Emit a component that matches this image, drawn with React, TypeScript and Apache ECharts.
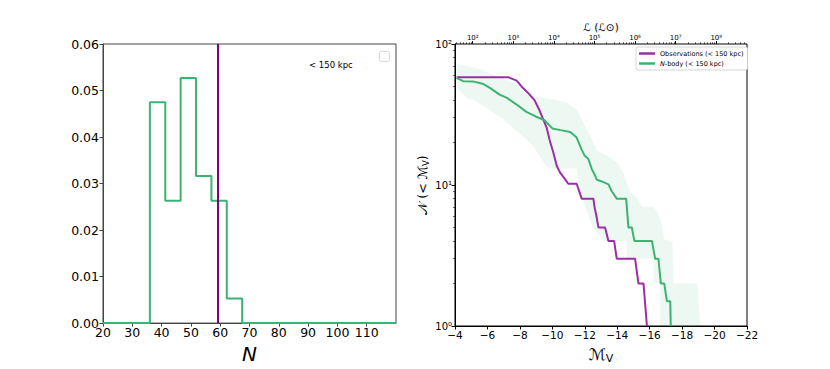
import React, { useEffect, useRef } from "react";
import * as echarts from "echarts";

// Left panel: histogram of N (N-body satellites within 150 kpc)
const histEdges = [36, 41.25, 46.5, 51.75, 57, 62.25, 67.5];
const histValues = [0.0475, 0.0263, 0.0527, 0.0316, 0.0263, 0.0053];
const observedN = 59.2;
const histXMin = 20;
const histXMax = 120;

// Right panel: cumulative luminosity function
const obsMag = [-4.1, -7.3, -7.8, -8.1, -8.5, -8.9, -9.2, -9.45, -9.65, -9.85, -10.06, -10.27, -10.47, -10.78, -10.98, -11.5, -11.81, -12.53, -12.6, -12.72, -12.84, -13.25, -13.46, -13.81, -13.97, -15.1, -15.31, -15.62, -15.83];
const obsCount = [58, 58, 55, 50, 45, 40, 34, 29, 25.5, 20.5, 17, 13.7, 12.3, 11, 10.2, 10.2, 8, 8, 7, 6, 5, 5, 4, 4, 3, 3, 2, 2, 1];

const nbodyMag = [-4.1, -4.5, -5.1, -5.7, -6.15, -6.75, -7.2, -7.8, -8.4, -9.0, -9.5, -10.0, -10.5, -11.1, -11.5, -11.8, -12.0, -12.22, -12.43, -12.63, -12.74, -13.05, -13.46, -13.67, -13.97, -14.55, -14.69, -14.9, -15.06, -16.14, -16.34, -16.54, -16.69, -16.9, -17.06, -17.27, -17.3];
const nbodyCount = [57.5, 54.5, 54.3, 52.3, 48.8, 43.8, 41.5, 37.2, 33, 30.5, 28.9, 25.2, 24.5, 23.8, 21.7, 17.9, 16.1, 15.3, 13, 11.7, 10.9, 10.6, 10.1, 9, 8, 8, 5, 5, 4, 4, 3, 3, 2, 2, 1.5, 1.5, 1];

const bandUpperMag = [-4.1, -4.9, -5.7, -6.35, -7.8, -8.6, -8.85, -9.45, -10.06, -10.9, -11.5, -11.9, -12.43, -12.74, -13.46, -13.67, -14.07, -14.38, -14.8, -15.21, -15.52, -16.24, -16.55, -16.76, -16.9, -17.4, -17.48, -18.93, -19.13];
const bandUpperCount = [72, 69, 65.6, 60.5, 51.5, 47.5, 42.6, 41.5, 40.4, 38.3, 34.3, 27.7, 21, 17.5, 16, 15.3, 14.1, 12, 8.9, 8.2, 7, 7, 6.1, 5.2, 4.1, 4, 2, 2, 1];

const bandLowerMag = [-4.1, -4.7, -5.3, -6.1, -7.0, -7.8, -8.4, -8.8, -9.2, -9.65, -9.85, -11.5, -11.6, -11.85, -12.5, -13.2, -14.59, -14.59, -16.24, -16.24, -16.65, -16.65];
const bandLowerCount = [48.8, 41.5, 39.3, 34.3, 29.2, 24.2, 21, 19, 16, 13.5, 13.1, 13.1, 10.2, 8, 5, 4, 4, 3, 3, 2, 2, 1];

const magMin = -22;
const magMax = -4;
const countMin = 1;
const countMax = 100;
const lumLogMin = 1.563;
const lumLogMax = 8.758;
const lumTicks = [2, 3, 4, 5, 6, 7, 8];
const countTickLabels = ["10⁰", "10¹", "10²"];

const SUP: Record<string, string> = { "0": "⁰", "1": "¹", "2": "²", "3": "³", "4": "⁴", "5": "⁵", "6": "⁶", "7": "⁷", "8": "⁸", "9": "⁹" };
const sup = (n: number) => String(n).split("").map((c) => SUP[c] ?? c).join("");

const GREEN = "#3cb371";
const PURPLE_R = "#9b2fa5";
const PURPLE_L = "#800080";
const FONT = "DejaVu Sans";

export default function App() {
  const ref = useRef<HTMLDivElement>(null);
  useEffect(() => {
    if (!ref.current) return;
    const chart = echarts.init(ref.current, undefined, { renderer: "svg" });

    // histogram step outline
    const histPts: number[][] = [[histXMin, 0], [histEdges[0], 0]];
    histValues.forEach((v, i) => {
      histPts.push([histEdges[i], v]);
      histPts.push([histEdges[i + 1], v]);
    });
    histPts.push([histEdges[histEdges.length - 1], 0]);
    histPts.push([histXMax, 0]);

    const obsData = obsMag.map((m, i) => [m, obsCount[i]]);
    const nbodyData = nbodyMag.map((m, i) => [m, nbodyCount[i]]);
    const upper = bandUpperMag.map((m, i) => [m, bandUpperCount[i]]);
    const lower = bandLowerMag.map((m, i) => [m, bandLowerCount[i]]);

    const minorLum: number[] = [];
    for (let d = 1; d <= 8; d++) {
      for (let k = 2; k <= 9; k++) {
        const v = d + Math.log10(k);
        if (v > lumLogMin && v < lumLogMax) minorLum.push(v);
      }
    }
    const minorCount: number[] = [];
    for (let d = 0; d < 2; d++) for (let k = 2; k <= 9; k++) minorCount.push(k * Math.pow(10, d));

    const option: any = {
      animation: false,
      textStyle: { fontFamily: FONT },
      grid: [
        { left: 103, top: 44, width: 293, height: 284, show: true, borderColor: "#444", borderWidth: 1, backgroundColor: "transparent" },
        { left: 455, top: 44, width: 292, height: 284, show: true, borderColor: "#000", borderWidth: 1, backgroundColor: "transparent" },
      ],
      xAxis: [
        {
          gridIndex: 0, type: "value", min: histXMin, max: histXMax, interval: 10,
          axisLine: { lineStyle: { color: "#444" } },
          axisTick: { length: 3.5, lineStyle: { color: "#444" } },
          axisLabel: { color: "#000", fontSize: 12.5, margin: 3, showMaxLabel: false, fontFamily: FONT },
          splitLine: { show: false },
          name: "N", nameLocation: "middle", nameGap: 17,
          nameTextStyle: { fontSize: 20, fontStyle: "italic", color: "#000", fontFamily: FONT },
        },
        {
          gridIndex: 1, type: "value", min: magMin, max: magMax, interval: 2, inverse: true,
          axisLine: { lineStyle: { color: "#000" } },
          axisTick: { length: 3.5, lineStyle: { color: "#000" } },
          axisLabel: { color: "#000", fontSize: 10.5, margin: 3, fontFamily: FONT, formatter: (v: number) => String(v).replace("-", "−") },
          splitLine: { show: false },
          name: "ℳ{s|V}", nameLocation: "middle", nameGap: 19,
          nameTextStyle: { fontSize: 16, color: "#000", fontFamily: FONT, rich: { s: { fontSize: 11, verticalAlign: "bottom", padding: [8, 0, 0, 0], fontFamily: FONT } } },
        },
        {
          gridIndex: 1, type: "value", position: "top", min: lumLogMin, max: lumLogMax,
          axisLine: { show: false },
          axisTick: { length: 3, customValues: lumTicks, lineStyle: { color: "#000" } },
          axisLabel: { fontSize: 7, color: "#000", margin: 3, customValues: lumTicks, fontFamily: FONT, formatter: (v: number) => "10" + sup(Math.round(v)) },
          splitLine: { show: false },
        },
        {
          gridIndex: 1, type: "value", position: "top", min: lumLogMin, max: lumLogMax,
          axisLine: { show: false },
          axisTick: { length: 1.8, customValues: minorLum, lineStyle: { color: "#000", width: 0.6 } },
          axisLabel: { show: false },
          splitLine: { show: false },
        },
      ],
      yAxis: [
        {
          gridIndex: 0, type: "value", min: 0, max: 0.06, interval: 0.01,
          axisLine: { lineStyle: { color: "#444" } },
          axisTick: { length: 3.5, lineStyle: { color: "#444" } },
          axisLabel: { color: "#000", fontSize: 12.5, margin: 4, fontFamily: FONT, formatter: (v: number) => v.toFixed(2) },
          splitLine: { show: false },
        },
        {
          gridIndex: 1, type: "log", logBase: 10, min: countMin, max: countMax, position: "left",
          axisLine: { lineStyle: { color: "#000" } },
          axisTick: { length: 3.5, lineStyle: { color: "#000" } },
          axisLabel: { color: "#000", fontSize: 10, margin: 3, fontFamily: FONT, formatter: (v: number) => countTickLabels[Math.round(Math.log10(v))] },
          splitLine: { show: false },
          minorTick: { show: false },
          name: "𝒩 (< ℳ{s|V})", nameLocation: "middle", nameGap: 25, nameRotate: 90,
          nameTextStyle: { fontSize: 12.5, color: "#000", fontFamily: FONT, rich: { s: { fontSize: 8.5, verticalAlign: "bottom", padding: [6, 0, 0, 0], fontFamily: FONT } } },
        },
        {
          gridIndex: 1, type: "log", logBase: 10, min: countMin, max: countMax, position: "left",
          axisLine: { show: false },
          axisTick: { length: 2, customValues: minorCount, lineStyle: { color: "#000", width: 0.6 } },
          axisLabel: { show: false },
          splitLine: { show: false },
        },
      ],
      legend: {
        left: 636, top: 47, orient: "vertical", itemGap: 3,
        itemWidth: 16, itemHeight: 2.5, icon: "rect",
        padding: [3, 4, 3, 3], borderColor: "#ccc", borderWidth: 0.8, borderRadius: 2,
        backgroundColor: "#fff",
        data: ["Observations (< 150 kpc)", "N-body (< 150 kpc)"],
        formatter: (name: string) => (name.startsWith("N-") ? "{i|N}-body (< 150 kpc)" : name),
        textStyle: { fontSize: 6.5, color: "#000", fontFamily: FONT, padding: [0, 0, 0, 0], rich: { i: { fontStyle: "italic", fontSize: 6.5, fontFamily: FONT } } },
      },
      series: [
        {
          type: "line", xAxisIndex: 0, yAxisIndex: 0, data: histPts, showSymbol: false, symbol: "none",
          lineStyle: { color: GREEN, width: 2 }, z: 2, clip: false,
          markLine: {
            silent: true, symbol: "none", label: { show: false },
            lineStyle: { color: PURPLE_L, width: 2, type: "solid" },
            data: [{ xAxis: observedN }],
          },
        },
        {
          type: "custom", xAxisIndex: 1, yAxisIndex: 1, data: [[-10, 10]], z: 1, silent: true,
          renderItem: (_params: any, api: any) => {
            const pts = upper.map((p) => api.coord(p)).concat(lower.slice().reverse().map((p) => api.coord(p)));
            return { type: "polygon", shape: { points: pts }, style: { fill: "rgba(60,179,113,0.09)", stroke: "none" } };
          },
        },
        {
          name: "Observations (< 150 kpc)", type: "line", xAxisIndex: 1, yAxisIndex: 1, data: obsData,
          showSymbol: false, symbol: "none", lineStyle: { color: PURPLE_R, width: 2 }, itemStyle: { color: PURPLE_R }, z: 3,
        },
        {
          name: "N-body (< 150 kpc)", type: "line", xAxisIndex: 1, yAxisIndex: 1, data: nbodyData,
          showSymbol: false, symbol: "none", lineStyle: { color: GREEN, width: 2 }, itemStyle: { color: GREEN }, z: 3,
        },
      ],
      graphic: [
        { type: "text", x: 309, y: 64.5, style: { text: "< 150 kpc", fontSize: 8.5, fill: "#000", fontFamily: FONT, verticalAlign: "middle" } },
        { type: "rect", left: 379, top: 51, shape: { width: 10, height: 10, r: 2 }, style: { fill: "#fff", stroke: "#ccc", lineWidth: 0.8 } },
        { type: "text", x: 601, y: 27, style: { text: "ℒ (ℒ⊙)", fontSize: 10.5, fill: "#000", fontFamily: FONT, align: "center", verticalAlign: "middle" } },
      ],
    };
    chart.setOption(option);
    return () => chart.dispose();
  }, []);
  return <div ref={ref} style={{ position: "absolute", left: 0, top: 0, width: 830, height: 369 }} />;
}
